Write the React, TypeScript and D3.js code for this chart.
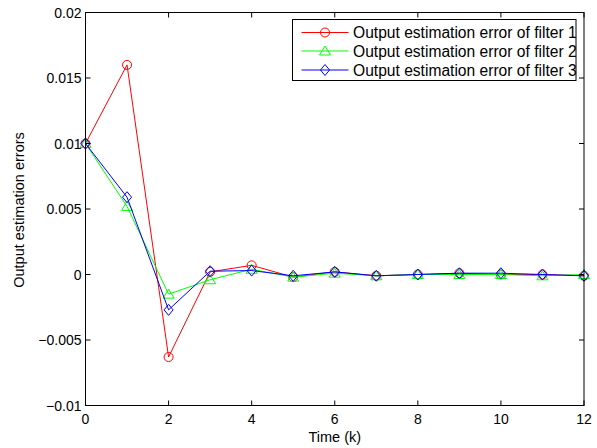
import React from 'react';
import * as d3 from 'd3';

const steps = [0, 1, 2, 3, 4, 5, 6, 7, 8, 9, 10, 11, 12];
const filter1 = [0.01, 0.016, -0.0063, 0.0002, 0.0007, -0.0002, 0.0002, -0.0001, 0.0, 0.0001, 0.0, 0.0, -0.0001];
const filter2 = [0.01, 0.0052, -0.0015, -0.0004, 0.0004, -0.0002, 0.0001, -0.0001, 0.0, 0.0, 0.0, -0.0001, 0.0];
const filter3 = [0.01, 0.0059, -0.0027, 0.00025, 0.0003, -0.0001, 0.0002, -0.0001, 0.0, 0.0001, 0.0001, 0.0, -0.0001];
const seriesNames = ['Output estimation error of filter 1', 'Output estimation error of filter 2', 'Output estimation error of filter 3'];
const seriesColors = ['#ff0000', '#00ff00', '#0000ff'];
const xTicks = [0, 2, 4, 6, 8, 10, 12];
const yTicks = [-0.01, -0.005, 0, 0.005, 0.01, 0.015, 0.02];

const W = 597, H = 448;
const left = 85.5, right = 584, top = 12.5, bottom = 405.5;
const font = 'Liberation Sans, Arial, sans-serif';

const fmt = (v: number) => {
  if (v === 0) return '0';
  const s = String(+v.toFixed(3));
  return s.replace('-', '\u2212');
};

const Marker = ({ kind, x, y, color }: { kind: number; x: number; y: number; color: string }) => {
  if (kind === 0) return <circle cx={x} cy={y} r={4.5} fill="none" stroke={color} strokeWidth={1} />;
  if (kind === 1) {
    const p = d3.path();
    p.moveTo(x, y - 5); p.lineTo(x + 5.5, y + 4); p.lineTo(x - 5.5, y + 4); p.closePath();
    return <path d={p.toString()} fill="none" stroke={color} strokeWidth={1} />;
  }
  const p = d3.path();
  p.moveTo(x, y - 5.5); p.lineTo(x + 4.5, y); p.lineTo(x, y + 5.5); p.lineTo(x - 4.5, y); p.closePath();
  return <path d={p.toString()} fill="none" stroke={color} strokeWidth={1} />;
};

export default function App() {
  const xs = d3.scaleLinear().domain([0, 12]).range([left, right]);
  const ys = d3.scaleLinear().domain([-0.01, 0.02]).range([bottom, top]);
  const data = [filter1, filter2, filter3];
  const line = d3.line<number>().x((d, i) => xs(steps[i])).y(d => ys(d));
  const tl = 5;

  const lgX = 292.5, lgY = 19.5, lgW = 283.5, lgH = 61;
  const rowY = [32.5, 51, 70];

  return (
    <svg width={W} height={H} style={{ position: 'absolute', left: 0, top: 0, background: '#fff' }}>
      <rect x={0} y={0} width={W} height={H} fill="#fff" />
      <g>
        {data.map((s, k) => (
          <g key={k}>
            <path d={line(s) || ''} fill="none" stroke={seriesColors[k]} strokeWidth={1} />
            {s.map((v, i) => <Marker key={i} kind={k} x={xs(steps[i])} y={ys(v)} color={seriesColors[k]} />)}
          </g>
        ))}
      </g>
      {/* axes box and ticks */}
      <rect x={left} y={top} width={right - left} height={bottom - top} fill="none" stroke="#000" strokeWidth={1} />
      {xTicks.map(t => (
        <g key={'x' + t}>
          <line x1={xs(t)} x2={xs(t)} y1={bottom} y2={bottom - tl} stroke="#000" />
          <line x1={xs(t)} x2={xs(t)} y1={top} y2={top + tl} stroke="#000" />
          <text x={xs(t)} y={424} textAnchor="middle" fontFamily={font} fontSize={14}>{t}</text>
        </g>
      ))}
      {yTicks.map(t => (
        <g key={'y' + t}>
          <line x1={left} x2={left + tl} y1={ys(t)} y2={ys(t)} stroke="#000" />
          <line x1={right} x2={right - tl} y1={ys(t)} y2={ys(t)} stroke="#000" />
          <text x={left - 4} y={ys(t) + 5} textAnchor="end" fontFamily={font} fontSize={14}>{fmt(t)}</text>
        </g>
      ))}
      <text x={(left + right) / 2} y={441.5} textAnchor="middle" fontFamily={font} fontSize={14.5}>Time (k)</text>
      <text transform={`translate(23.5,${(top + bottom) / 2 + 1}) rotate(-90)`} textAnchor="middle" fontFamily={font} fontSize={14.5}>Output estimation errors</text>
      {/* legend */}
      <rect x={lgX} y={lgY} width={lgW} height={lgH} fill="#fff" stroke="#000" strokeWidth={1} />
      {seriesNames.map((n, k) => (
        <g key={n}>
          <line x1={301.5} x2={348.5} y1={rowY[k]} y2={rowY[k]} stroke={seriesColors[k]} strokeWidth={1} />
          <Marker kind={k} x={325} y={rowY[k]} color={seriesColors[k]} />
          <text x={353} y={rowY[k] + 5.5} fontFamily={font} fontSize={15.6}>{n}</text>
        </g>
      ))}
    </svg>
  );
}
